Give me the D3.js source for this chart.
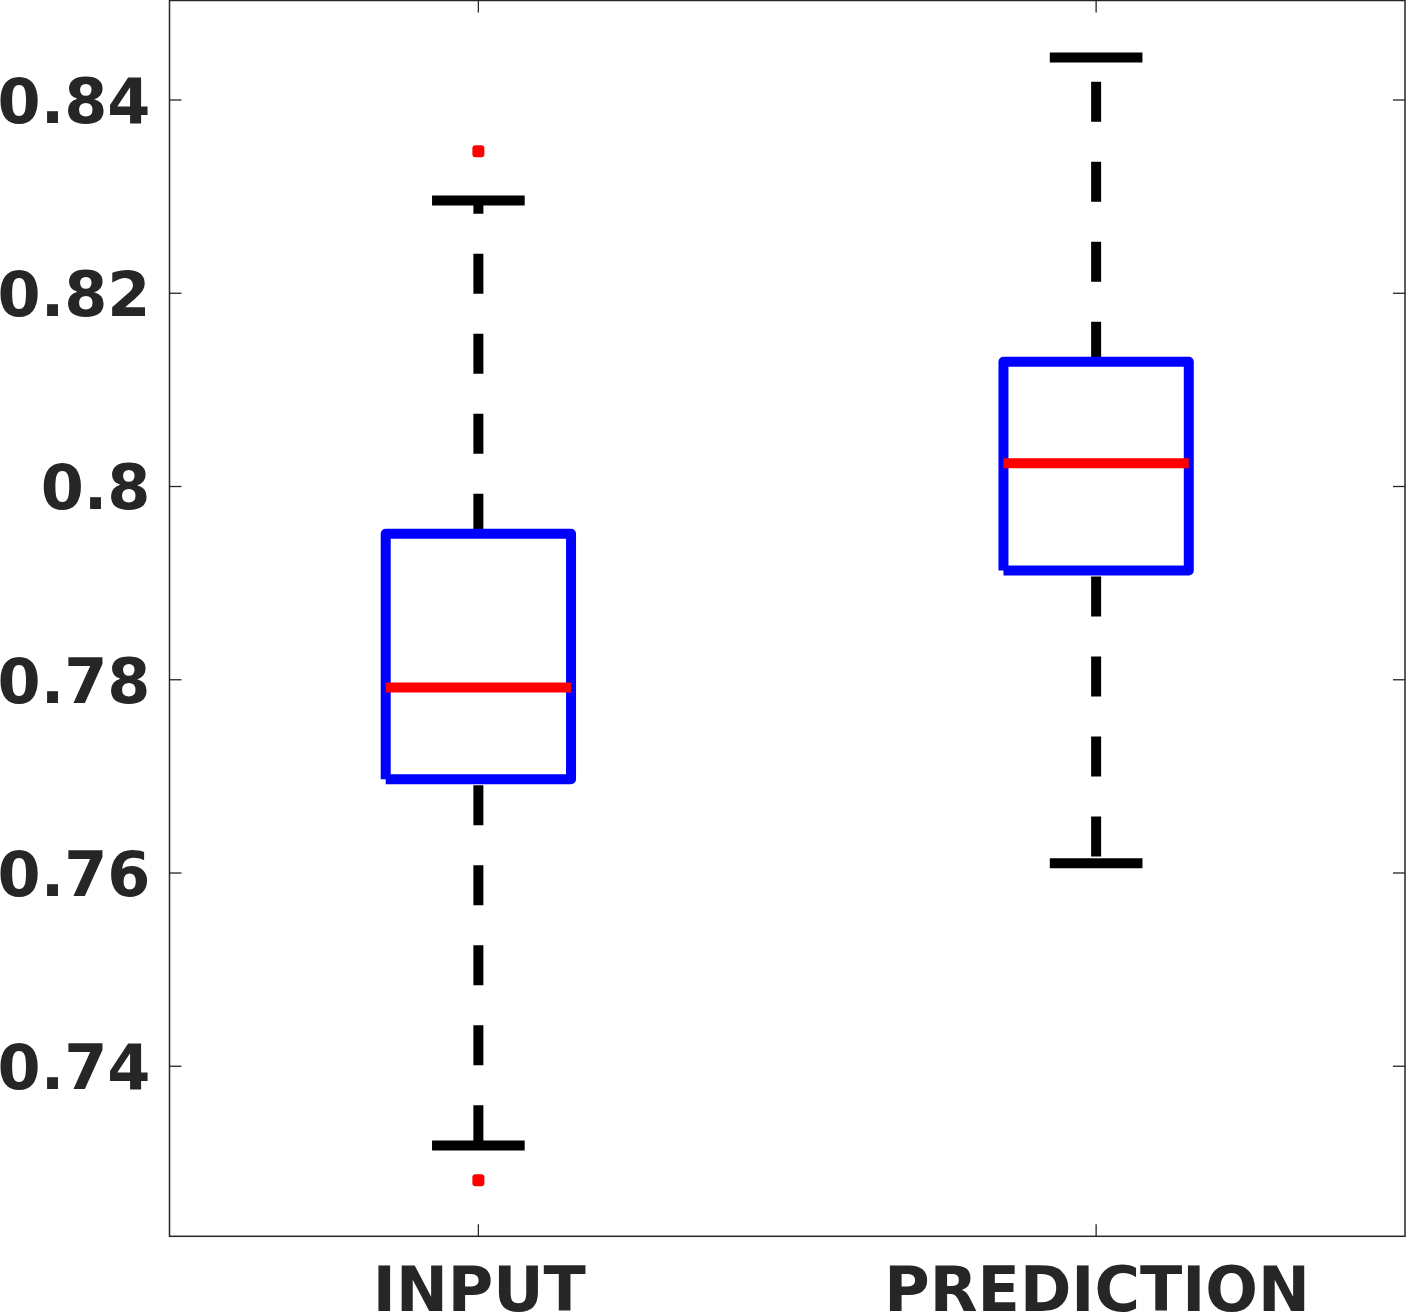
<!DOCTYPE html>
<html>
<head>
<meta charset="utf-8">
<script src="https://cdn.jsdelivr.net/npm/d3@7"></script>
<style>
  html, body { margin: 0; padding: 0; background: #fff; }
  svg { display: block; }
  text { font-family: "DejaVu Sans", sans-serif; font-weight: bold; fill: #262626; }
</style>
</head>
<body>
<div id="chart"></div>
<script>
// values
const categories = ["INPUT", "PREDICTION"]
const q1 = [0.7697, 0.7913]
const medians = [0.7792, 0.8024]
const q3 = [0.7951, 0.8129]
const whiskerLow = [0.7318, 0.7610]
const whiskerHigh = [0.8296, 0.8444]
const outliers = [[0.7282, 0.8347], []]
const yTicks = [0.74, 0.76, 0.78, 0.80, 0.82, 0.84]
const yDomain = [0.7224, 0.8503]
const xDomain = [0.5, 2.5]

const W = 1406, H = 1313
const mLeft = 169.5, mTop = 0.5, mRight = 1405, mBottom = 1236.3
const boxHalf = 0.15, capHalf = 0.075
const tickLen = 12
const fontSize = 62

const svg = d3.select("#chart").append("svg")
  .attr("width", W)
  .attr("height", H)

const x = d3.scaleLinear().domain(xDomain).range([mLeft, mRight])
const y = d3.scaleLinear().domain(yDomain).range([mBottom, mTop])

const data = categories.map((c, i) => ({
  name: c, pos: i + 1,
  q1: q1[i], med: medians[i], q3: q3[i],
  lo: whiskerLow[i], hi: whiskerHigh[i], out: outliers[i]
}))

// whiskers (dashed)
const g = svg.append("g")
g.selectAll(".wh-up").data(data).enter().append("line")
  .attr("x1", d => x(d.pos)).attr("x2", d => x(d.pos))
  .attr("y1", d => y(d.q3)).attr("y2", d => y(d.hi))
  .attr("stroke", "#000").attr("stroke-width", 10)
  .attr("stroke-dasharray", "40,40")
g.selectAll(".wh-lo").data(data).enter().append("line")
  .attr("x1", d => x(d.pos)).attr("x2", d => x(d.pos))
  .attr("y1", d => y(d.q1) + 6).attr("y2", d => y(d.lo))
  .attr("stroke", "#000").attr("stroke-width", 10)
  .attr("stroke-dasharray", "40,40")

// whisker caps
const caps = []
data.forEach(d => { caps.push({pos: d.pos, v: d.hi}); caps.push({pos: d.pos, v: d.lo}) })
g.selectAll(".cap").data(caps).enter().append("line")
  .attr("x1", d => x(d.pos - capHalf)).attr("x2", d => x(d.pos + capHalf))
  .attr("y1", d => y(d.v)).attr("y2", d => y(d.v))
  .attr("stroke", "#000").attr("stroke-width", 10)

// boxes, open polyline like matlab draws them
g.selectAll(".box").data(data).enter().append("path")
  .attr("d", d => {
    const x0 = x(d.pos - boxHalf), x1 = x(d.pos + boxHalf)
    return `M${x0},${y(d.q1)}L${x0},${y(d.q3)}L${x1},${y(d.q3)}L${x1},${y(d.q1)}L${x0},${y(d.q1)}`
  })
  .attr("fill", "none")
  .attr("stroke", "#0000ff").attr("stroke-width", 10)
  .attr("stroke-linejoin", "round")

// medians
g.selectAll(".med").data(data).enter().append("line")
  .attr("x1", d => x(d.pos - boxHalf)).attr("x2", d => x(d.pos + boxHalf))
  .attr("y1", d => y(d.med)).attr("y2", d => y(d.med))
  .attr("stroke", "#ff0000").attr("stroke-width", 10)

// outliers
const outs = []
data.forEach(d => d.out.forEach(v => outs.push({pos: d.pos, v})))
g.selectAll(".out").data(outs).enter().append("rect")
  .attr("x", d => x(d.pos) - 6).attr("y", d => y(d.v) - 6)
  .attr("width", 12).attr("height", 12).attr("rx", 3)
  .attr("fill", "#ff0000")

// axes box
const axisColor = "#262626"
svg.append("rect")
  .attr("x", mLeft).attr("y", mTop)
  .attr("width", mRight - mLeft).attr("height", mBottom - mTop)
  .attr("fill", "none").attr("stroke", axisColor).attr("stroke-width", 1.5)

const ax = svg.append("g")
yTicks.forEach(t => {
  ax.append("line").attr("x1", mLeft).attr("x2", mLeft + tickLen)
    .attr("y1", y(t)).attr("y2", y(t)).attr("stroke", axisColor).attr("stroke-width", 1.3)
  ax.append("line").attr("x1", mRight - tickLen).attr("x2", mRight)
    .attr("y1", y(t)).attr("y2", y(t)).attr("stroke", axisColor).attr("stroke-width", 1.3)
})
data.forEach(d => {
  ax.append("line").attr("x1", x(d.pos)).attr("x2", x(d.pos))
    .attr("y1", mBottom).attr("y2", mBottom - tickLen).attr("stroke", axisColor).attr("stroke-width", 1.3)
  ax.append("line").attr("x1", x(d.pos)).attr("x2", x(d.pos))
    .attr("y1", mTop).attr("y2", mTop + tickLen).attr("stroke", axisColor).attr("stroke-width", 1.3)
})

ax.selectAll(".ylab").data(yTicks).enter().append("text")
  .attr("x", mLeft - 19).attr("y", d => y(d) + 22.8)
  .attr("text-anchor", "end")
  .style("font-size", fontSize + "px")
  .text(d => String(+d.toFixed(2)))

ax.selectAll(".xlab").data(data).enter().append("text")
  .attr("x", d => x(d.pos) + 1).attr("y", 1310.5)
  .attr("text-anchor", "middle")
  .style("font-size", fontSize + "px")
  .text(d => d.name)
</script>
</body>
</html>
